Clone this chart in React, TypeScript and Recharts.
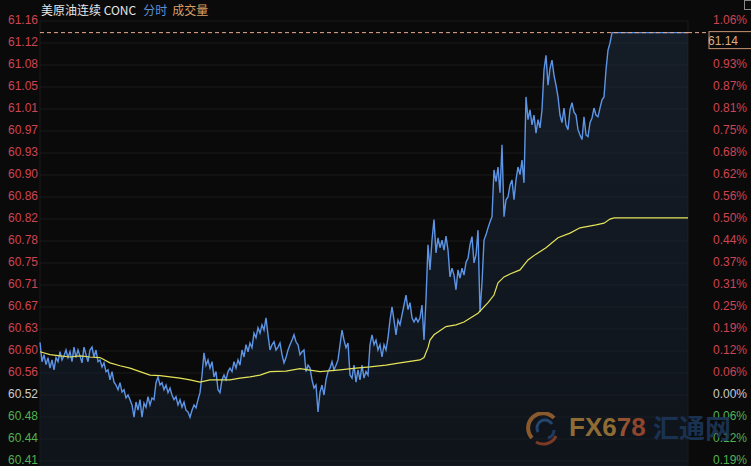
import React from "react";
import {
  ComposedChart,
  Area,
  Line,
  XAxis,
  YAxis,
  CartesianGrid,
  ReferenceLine,
} from "recharts";

// ---- data ----
const PREV_CLOSE = 60.52;
const STEP = 0.03764; // price step between axis ticks
const LAST_PRICE = 61.14;
const SESSION_END = 324;
const TITLE = "美原油连续 CONC";
const TAB_1 = "分时";
const TAB_2 = "成交量";

const leftTickLabels = [
  "60.41", "60.44", "60.48", "60.52", "60.56", "60.60", "60.63", "60.67", "60.71", "60.75", "60.78",
  "60.82", "60.86", "60.90", "60.93", "60.97", "61.01", "61.05", "61.08", "61.12", "61.16",
];
// the 1.00% label is hidden behind the last-price box
const rightTickLabels = [
  "0.19%", "0.12%", "0.06%", "0.00%", "0.06%", "0.12%", "0.19%", "0.25%", "0.31%", "0.37%", "0.44%",
  "0.50%", "0.56%", "0.62%", "0.68%", "0.75%", "0.81%", "0.87%", "0.93%", "", "1.06%",
];

// price, one value per minute from minute 0
const priceValues = [
  60.610, 60.577, 60.589, 60.572, 60.584, 60.566, 60.580, 60.563, 60.584, 60.577,
  60.594, 60.580, 60.587, 60.597, 60.584, 60.594, 60.577, 60.602, 60.584, 60.597,
  60.587, 60.575, 60.602, 60.589, 60.577, 60.597, 60.602, 60.585, 60.597, 60.577,
  60.580, 60.568, 60.575, 60.560, 60.563, 60.546, 60.560, 60.542, 60.537, 60.529,
  60.541, 60.525, 60.529, 60.515, 60.520, 60.512, 60.503, 60.482, 60.508, 60.494,
  60.512, 60.482, 60.506, 60.499, 60.517, 60.503, 60.515, 60.512, 60.541, 60.551,
  60.537, 60.541, 60.529, 60.537, 60.524, 60.532, 60.520, 60.512, 60.517, 60.503,
  60.512, 60.499, 60.508, 60.494, 60.491, 60.482, 60.494, 60.503, 60.498, 60.512,
  60.524, 60.554, 60.592, 60.571, 60.580, 60.566, 60.577, 60.551, 60.560, 60.529,
  60.524, 60.546, 60.554, 60.546, 60.560, 60.566, 60.560, 60.577, 60.566, 60.580,
  60.571, 60.597, 60.585, 60.606, 60.594, 60.609, 60.601, 60.626, 60.618, 60.635,
  60.626, 60.640, 60.631, 60.652, 60.623, 60.597, 60.606, 60.611, 60.597, 60.602,
  60.609, 60.589, 60.575, 60.584, 60.597, 60.606, 60.614, 60.623, 60.611, 60.606,
  60.589, 60.594, 60.597, 60.560, 60.571, 60.566, 60.546, 60.532, 60.537, 60.491,
  60.525, 60.537, 60.520, 60.546, 60.560, 60.566, 60.577, 60.563, 60.571, 60.580,
  60.606, 60.631, 60.614, 60.601, 60.609, 60.554, 60.549, 60.571, 60.542, 60.563,
  60.546, 60.571, 60.549, 60.560, 60.554, 60.606, 60.623, 60.606, 60.614, 60.597,
  60.606, 60.585, 60.606, 60.597, 60.618, 60.648, 60.671, 60.648, 60.623, 60.648,
  60.640, 60.657, 60.674, 60.691, 60.666, 60.678, 60.652, 60.645, 60.652, 60.645,
  60.652, 60.674, 60.614, 60.683, 60.777, 60.734, 60.785, 60.820, 60.763, 60.789,
  60.772, 60.785, 60.768, 60.792, 60.768, 60.722, 60.737, 60.725, 60.700, 60.734,
  60.720, 60.737, 60.725, 60.747, 60.754, 60.777, 60.791, 60.746, 60.760, 60.802,
  60.662, 60.712, 60.785, 60.794, 60.806, 60.816, 60.825, 60.905, 60.885, 60.910,
  60.866, 60.948, 60.825, 60.854, 60.859, 60.879, 60.888, 60.854, 60.888, 60.910,
  60.897, 60.922, 60.883, 61.030, 60.991, 61.008, 60.982, 60.999, 60.968, 60.991,
  60.977, 61.008, 61.076, 61.101, 61.050, 61.079, 61.093, 61.067, 61.050, 61.030,
  60.999, 60.986, 61.011, 60.982, 60.974, 61.008, 61.020, 61.004, 60.999, 60.974,
  60.965, 60.957, 60.996, 60.965, 60.962, 60.986, 60.994, 61.011, 60.999, 60.996,
  61.011, 61.025, 61.030, 61.076, 61.110, 61.122, 61.140,
];

// average price line
const avgMinutes = [
  0, 5, 10, 15, 20, 25, 30, 35, 40, 45, 50, 55, 60, 65, 70, 75, 80, 85, 90, 95, 100, 105, 110, 115,
  123, 130, 140, 150, 158, 165, 173, 180, 190, 192, 194, 195, 197, 203, 208, 212, 219, 224, 227, 229,
  232, 235, 240, 244, 248, 253, 259, 265, 270, 278, 282, 285, 287, 324,
];
const avgValues = [
  60.594, 60.589, 60.587, 60.585, 60.587, 60.585, 60.584, 60.575, 60.570, 60.566, 60.560, 60.554,
  60.553, 60.551, 60.549, 60.546, 60.542, 60.546, 60.546, 60.546, 60.549, 60.551, 60.554, 60.560,
  60.561, 60.565, 60.560, 60.563, 60.566, 60.568, 60.571, 60.575, 60.580, 60.584, 60.601, 60.614,
  60.623, 60.637, 60.640, 60.645, 60.660, 60.678, 60.691, 60.712, 60.722, 60.727, 60.734, 60.751,
  60.761, 60.772, 60.789, 60.797, 60.806, 60.811, 60.814, 60.821, 60.823, 60.823,
];

// ---- derived table ----
const rows = new Map<number, any>();
priceValues.forEach((v, i) => rows.set(i, { t: i, price: v }));
rows.set(SESSION_END, { t: SESSION_END, price: LAST_PRICE });
avgMinutes.forEach((t, i) => {
  const r = rows.get(t) ?? { t };
  r.avg = avgValues[i];
  rows.set(t, r);
});
const data = Array.from(rows.values()).sort((a, b) => a.t - b.t);

const yTicks = leftTickLabels.map((_, i) => PREV_CLOSE + (i - 3) * STEP);
const yDomain: [number, number] = [PREV_CLOSE - 3 * STEP - (5 / 22) * STEP, PREV_CLOSE + 17 * STEP];
const xTicks = Array.from({ length: 16 }, (_, i) => (SESSION_END / 15) * i);

const RED = "#cf4452";
const GREEN = "#52b152";
const NEUTRAL = "#cccccc";
const colorFor = (i: number) => (i > 3 ? RED : i < 3 ? GREEN : NEUTRAL);
const FONT = "'Liberation Sans', Arial, sans-serif";

const LeftTick = (props: any) => {
  const { x, y, index } = props;
  return (
    <text x={x} y={y} dy={2.5} textAnchor="end" fill={colorFor(index)} fontSize={12} fontFamily={FONT}>
      {leftTickLabels[index]}
    </text>
  );
};

const RightTick = (props: any) => {
  const { x, y, index } = props;
  return (
    <text x={x} y={y} dy={2.5} textAnchor="start" fill={colorFor(index)} fontSize={12} fontFamily={FONT}>
      {rightTickLabels[index]}
    </text>
  );
};

const LastPriceLabel = (props: any) => {
  const vb = props.viewBox || {};
  const x = vb.x + vb.width;
  const y = vb.y;
  return (
    <g>
      <line x1={x} x2={x + 20} y1={y} y2={y} stroke="#e6a98a" strokeDasharray="4 3" />
      <rect x={x + 21} y={y - 1} width={48} height={17} fill="#0a0a0a" stroke="#c89474" />
      <text x={x + 20} y={y + 12} fill="#dcae84" fontSize={12} fontFamily={FONT}>
        {LAST_PRICE.toFixed(2)}
      </text>
    </g>
  );
};

export default function App() {
  return (
    <div
      style={{
        position: "absolute",
        left: 0,
        top: 0,
        width: 751,
        height: 466,
        background: "#0a0a0a",
        overflow: "hidden",
      }}
    >
      <ComposedChart
        width={751}
        height={466}
        data={data}
        margin={{ top: 21, right: 0, bottom: 0, left: 0 }}
      >
        <defs>
          <linearGradient id="navyFill" x1="0" y1="0" x2="0" y2="1">
            <stop offset="0%" stopColor="#1e2d41" stopOpacity={0.88} />
            <stop offset="100%" stopColor="#141d2a" stopOpacity={0.88} />
          </linearGradient>
        </defs>
        <CartesianGrid yAxisId="left" stroke="#1b1b1b" strokeWidth={1} />
        <XAxis
          type="number"
          dataKey="t"
          domain={[0, SESSION_END]}
          ticks={xTicks}
          interval={0}
          height={0}
          tick={false}
          axisLine={false}
          tickLine={false}
        />
        <YAxis
          yAxisId="left"
          orientation="left"
          width={40}
          domain={yDomain}
          ticks={yTicks}
          interval={0}
          allowDataOverflow
          axisLine={false}
          tickLine={false}
          tickSize={0}
          tickMargin={2}
          tick={<LeftTick />}
        />
        <YAxis
          yAxisId="right"
          orientation="right"
          width={63}
          domain={yDomain}
          ticks={yTicks}
          interval={0}
          allowDataOverflow
          axisLine={false}
          tickLine={false}
          tickSize={0}
          tickMargin={25}
          tick={<RightTick />}
        />
        <Area
          yAxisId="left"
          type="linear"
          dataKey="price"
          stroke="#5d95e6"
          strokeWidth={1.4}
          fill="url(#navyFill)"
          connectNulls
          dot={false}
          activeDot={false}
          isAnimationActive={false}
        />
        <Line
          yAxisId="right"
          type="linear"
          dataKey="avg"
          stroke="#e3e35a"
          strokeWidth={1.2}
          connectNulls
          dot={false}
          activeDot={false}
          isAnimationActive={false}
        />
        <ReferenceLine
          yAxisId="left"
          y={LAST_PRICE}
          stroke="#e6a98a"
          strokeDasharray="4 3"
          label={<LastPriceLabel />}
        />
      </ComposedChart>

      {/* title */}
      <div
        style={{
          position: "absolute",
          top: 2,
          left: 41,
          fontSize: 12,
          lineHeight: "16px",
          fontFamily: "'Noto Sans CJK SC', sans-serif",
          whiteSpace: "nowrap",
        }}
      >
        <span style={{ color: "#e6e6e6" }}>{TITLE}</span>
        <span style={{ color: "#5b8fd8", marginLeft: 7 }}>{TAB_1}</span>
        <span style={{ color: "#d9a066", marginLeft: 5 }}>{TAB_2}</span>
      </div>

      {/* top-right icon */}
      <div
        style={{
          position: "absolute",
          top: 0,
          left: 744,
          width: 8,
          height: 10,
          border: "1px solid #8a8a8a",
          boxSizing: "border-box",
        }}
      />

      {/* watermark */}
      <svg
        width={40}
        height={36}
        style={{ position: "absolute", left: 524, top: 412 }}
      >
        <path d="M 8 26 A 14 14 0 0 1 30 6" stroke="#8a5a2c" strokeWidth={4} fill="none" />
        <path d="M 12 30 A 14 14 0 0 0 32 24" stroke="#7a3a24" strokeWidth={3} fill="none" />
        <path d="M 14 20 A 8 8 0 0 1 28 12" stroke="#24456e" strokeWidth={3} fill="none" />
        <path d="M 24 26 A 8 8 0 0 0 30 18" stroke="#1e3a5e" strokeWidth={3} fill="none" />
      </svg>
      <div
        style={{
          position: "absolute",
          left: 569,
          top: 411,
          fontSize: 26,
          fontWeight: 700,
          lineHeight: "32px",
          fontFamily: FONT,
          whiteSpace: "nowrap",
        }}
      >
        <span style={{ color: "#8f6c34" }}>FX6</span>
        <span style={{ color: "#955230" }}>7</span>
        <span style={{ color: "#8f442c" }}>8</span>
      </div>
      <div
        style={{
          position: "absolute",
          left: 653,
          top: 410,
          fontSize: 26,
          fontWeight: 700,
          lineHeight: "34px",
          fontFamily: "'Noto Sans CJK SC', sans-serif",
          color: "#1c3658",
          whiteSpace: "nowrap",
          opacity: 0.9,
        }}
      >
        汇通网
      </div>
    </div>
  );
}
